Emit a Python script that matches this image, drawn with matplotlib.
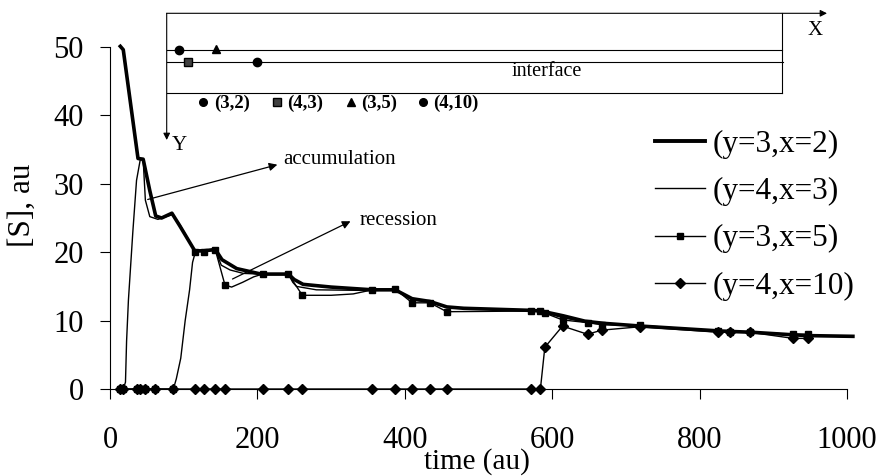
import matplotlib
matplotlib.use('Agg')
import matplotlib.pyplot as plt
from matplotlib.lines import Line2D

plt.rcParams['font.family'] = ['Liberation Serif', 'DejaVu Serif']

# (y=3,x=2) thick line, no markers
t1 = [14, 18, 38, 45, 54, 62, 70, 84, 95, 115, 127, 143, 152, 172, 205, 242, 250, 262, 300,
      356, 387, 410, 434, 457, 480, 570, 585, 615, 645, 670, 720, 825, 845, 870, 930, 950, 1008]
s1 = [50.1, 49.6, 33.7, 33.6, 29, 25.3, 25, 25.7, 23.8, 20.2, 20.2, 20.4, 18.9, 17.6, 16.8, 16.8,
      16.0, 15.3, 14.9, 14.5, 14.5, 13.2, 12.8, 12.0, 11.8, 11.5, 11.4, 10.7, 9.9, 9.6, 9.2,
      8.5, 8.4, 8.3, 7.9, 7.8, 7.7]

# (y=4,x=3) thin line, no markers
t2 = [14, 18, 21, 22.5, 25, 31, 36, 41, 45, 48, 54, 65, 85, 95, 115, 127, 143, 151, 163, 181,
      205, 242, 248, 253, 280, 356, 387, 410, 434, 457, 570, 585, 615, 645, 670, 720, 825, 1008]
s2 = [0, 0, 1, 7, 13, 23, 30.5, 33.5, 33.5, 27.6, 25.2, 24.8, 25.5, 24, 20.2, 20.2, 20.3, 18.1,
      17.4, 16.9, 16.8, 16.8, 15.6, 15.0, 14.5, 14.4, 14.5, 13.0, 12.7, 11.9, 11.4, 11.3, 10.4,
      9.8, 9.5, 9.2, 8.5, 7.6]

# common output times (markers)
t_mark = [14, 18, 36, 41, 47, 61, 86, 116, 127, 143, 156, 207, 242, 261, 356, 387, 410, 434,
          457, 571, 584, 590, 614, 648, 667, 719, 825, 841, 868, 927, 947]

# (y=3,x=5) squares
s3_mark = [0, 0, 0, 0, 0, 0, 0, 20.1, 20.1, 20.3, 15.2, 16.8, 16.8, 13.7, 14.5, 14.6, 12.6,
           12.6, 11.3, 11.4, 11.4, 11.1, 10.1, 9.7, 9.4, 9.3, 8.5, 8.4, 8.3, 8.0, 8.0]
t3_line = [14, 86, 90, 96, 102, 108, 112, 116, 127, 143, 156, 165, 180, 195, 207, 242, 261,
           300, 330, 356, 387, 410, 434, 457, 571, 584, 590, 614, 648, 667, 719, 825, 841,
           868, 927, 947]
s3_line = [0, 0, 1.5, 4.5, 10, 14.5, 18.5, 20.1, 20.1, 20.3, 15.2, 14.9, 15.6, 16.4, 16.8,
           16.8, 13.7, 13.7, 13.9, 14.5, 14.6, 12.6, 12.6, 11.3, 11.4, 11.4, 11.1, 10.1, 9.7,
           9.4, 9.3, 8.5, 8.4, 8.3, 8.0, 8.0]

# (y=4,x=10) diamonds
s4_mark = [0, 0, 0, 0, 0, 0, 0, 0, 0, 0, 0, 0, 0, 0, 0, 0, 0, 0, 0, 0, 0, 6.1, 9.2, 8.0,
           8.6, 9.1, 8.3, 8.3, 8.3, 7.4, 7.4]

labels = ['(y=3,x=2)', '(y=4,x=3)', '(y=3,x=5)', '(y=4,x=10)']
inset_labels = ['(3,2)', '(4,3)', '(3,5)', '(4,10)']

fig = plt.figure(figsize=(8.82, 4.76), dpi=100)
ax = fig.add_axes([110 / 882, 1 - 389 / 476, 737 / 882, 342 / 476])

ax.plot(t1, s1, color='black', lw=2.6, clip_on=False, zorder=3)
ax.plot(t2, s2, color='black', lw=1.0, clip_on=False, zorder=3)
ax.plot(t3_line, s3_line, color='black', lw=1.0, clip_on=False, zorder=3)
ax.plot(t_mark, s3_mark, ls='none', marker='s', ms=5, color='black', clip_on=False, zorder=4)
ax.plot(t_mark, s4_mark, color='black', lw=1.0, marker='D', ms=5, clip_on=False, zorder=4)

ax.set_xlim(0, 1000)
ax.set_ylim(0, 50)
ax.set_xticks([0, 200, 400, 600, 800, 1000])
ax.set_yticks([0, 10, 20, 30, 40, 50])
for side in ['top', 'right']:
    ax.spines[side].set_visible(False)
for side in ['left', 'bottom']:
    ax.spines[side].set_linewidth(0.8)
ax.tick_params(axis='both', direction='out', length=7, width=0.8, labelsize=22)
ax.tick_params(axis='x', pad=20)
ax.tick_params(axis='y', pad=12)

fig.text(477 / 882, 1 - 462 / 476, 'time (au)', fontsize=21, ha='center', va='center')
fig.text(22 / 882, 1 - 205 / 476, '[S], au', fontsize=22.5, ha='center', va='center',
         rotation=90)

# annotations
ax.annotate('', xy=(230.7, 32.9), xytext=(47.5, 27.6),
            arrowprops=dict(arrowstyle='-|>', color='black', lw=0.9, mutation_scale=12))
ax.text(234.7, 33.6, 'accumulation', fontsize=15, va='center', ha='left')
ax.annotate('', xy=(329.7, 24.7), xytext=(162.8, 15.9),
            arrowprops=dict(arrowstyle='-|>', color='black', lw=0.9, mutation_scale=12))
ax.text(339, 24.6, 'recession', fontsize=15, va='center', ha='left')

# legend
handles = [Line2D([], [], color='black', lw=2.8),
           Line2D([], [], color='black', lw=1.0),
           Line2D([], [], color='black', lw=1.0, marker='s', ms=5),
           Line2D([], [], color='black', lw=1.0, marker='D', ms=5)]
ax.legend(handles, labels, loc='upper left', bbox_to_anchor=(655 / 882, 1 - 130 / 476),
          bbox_transform=fig.transFigure, frameon=False, fontsize=22.5, borderpad=0,
          borderaxespad=0, handlelength=1.6, handletextpad=0.25, labelspacing=0.58)

# inset schematic of the domain, drawn in pixel coordinates
ov = fig.add_axes([0, 0, 1, 1], zorder=5)
ov.set_xlim(0, 882)
ov.set_ylim(476, 0)
ov.axis('off')
ov.patch.set_alpha(0)

lk = dict(color='black', lw=0.8)
ov.plot([166.7, 781.7], [50, 50], **lk)
ov.plot([166.7, 783], [61.7, 61.7], **lk)
ov.plot([166.7, 781.7], [93.3, 93.3], **lk)
ov.plot([781.7, 781.7], [13.3, 93.3], **lk)
ov.annotate('', xy=(827, 13.3), xytext=(166.7, 13.3),
            arrowprops=dict(arrowstyle='-|>', color='black', lw=0.8, mutation_scale=10,
                            shrinkA=0, shrinkB=0))
ov.annotate('', xy=(166.7, 140), xytext=(166.7, 13.3),
            arrowprops=dict(arrowstyle='-|>', color='black', lw=0.8, mutation_scale=10,
                            shrinkA=0, shrinkB=0))
ov.text(815, 30.5, 'X', fontsize=15, ha='center', va='center')
ov.text(179, 145, 'Y', fontsize=15, ha='center', va='center')
ov.text(547, 71, 'interface', fontsize=14.5, ha='center', va='center')

mk = dict(ls='none', color='black', ms=6)
ov.plot([179], [50], marker='o', **mk)
ov.plot([215.7], [49], marker='^', **mk)
ov.plot([188], [61.7], marker='s', mfc='#404040', mec='black', ls='none', ms=5.5)
ov.plot([256.7], [61.7], marker='o', **mk)

row_x = [203.3, 276.7, 351, 422.7]
row_mk = ['o', 's', '^', 'o']
row_fc = ['black', '#404040', 'black', 'black']
for xm, m, fc, lab in zip(row_x, row_mk, row_fc, inset_labels):
    ov.plot([xm], [101.7], marker=m, mfc=fc, mec='black', ls='none', ms=5.5)
    ov.text(xm + 10.5, 103.3, lab, fontsize=13.5, fontweight='bold', ha='left', va='center')

fig.savefig('out.png', dpi=100)
